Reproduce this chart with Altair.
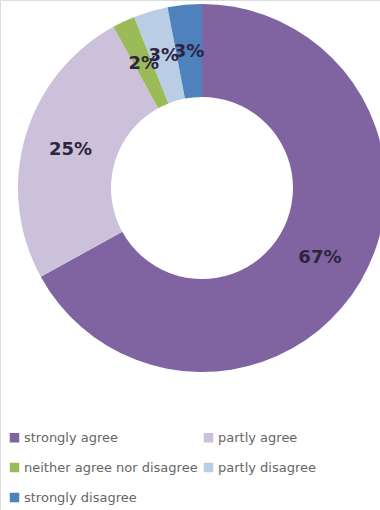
import altair as alt
import pandas as pd

categories = ["strongly agree", "partly agree", "neither agree nor disagree",
              "partly disagree", "strongly disagree"]
values = [67, 25, 2, 3, 3]
labels = ["67%", "25%", "2%", "3%", "3%"]
colors = ["#8064A2", "#CCC1DA", "#9BBB59", "#B9CDE5", "#4F81BD"]

df = pd.DataFrame({
    "category": categories,
    "value": values,
    "label": labels,
    "order": list(range(len(categories))),
})

base = alt.Chart(df).encode(
    theta=alt.Theta("value:Q", stack=True),
    order=alt.Order("order:Q"),
    x=alt.value(202),
    y=alt.value(188),
)

arcs = base.mark_arc(outerRadius=184, innerRadius=91).encode(
    color=alt.Color(
        "category:N",
        sort=categories,
        scale=alt.Scale(domain=categories, range=colors),
        legend=alt.Legend(
            title=None,
            orient="none",
            legendX=8,
            legendY=431,
            columns=2,
            direction="horizontal",
            symbolType="square",
            symbolSize=90,
            symbolStrokeWidth=0,
            labelFont="DejaVu Sans",
            labelFontSize=13,
            labelColor="#666666",
            labelLimit=300,
            rowPadding=16,
            columnPadding=4,
            labelOffset=3,
        ),
    )
)

text = base.mark_text(
    radius=137,
    font="DejaVu Sans",
    fontSize=18,
    fontWeight="bold",
    color="#2E2440",
).encode(text="label:N")

chart = (arcs + text).properties(
    width=380,
    height=510,
    autosize=alt.AutoSizeParams(type="none"),
    padding=0,
).configure_view(stroke=None).configure(background="white")

chart.save("out.html", embed_options={"renderer": "svg", "actions": False})
